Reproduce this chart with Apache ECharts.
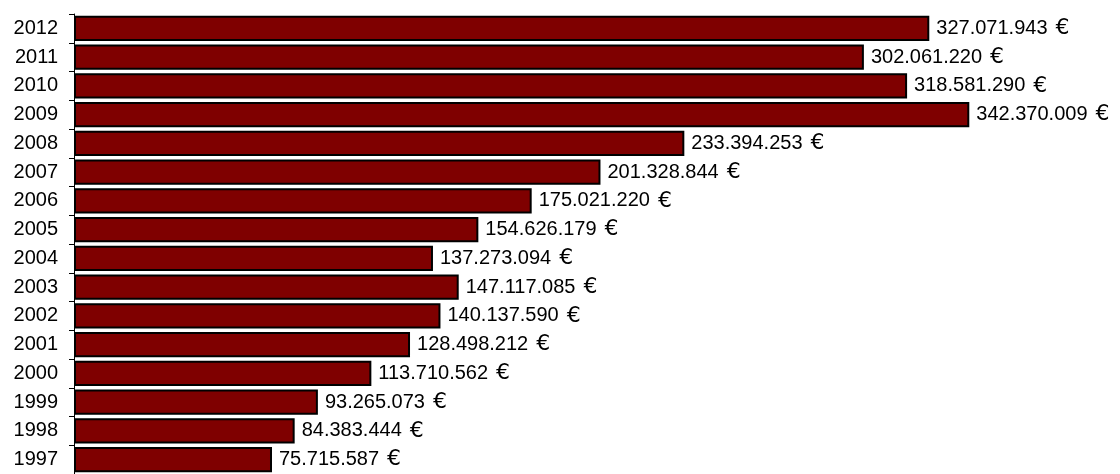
<!DOCTYPE html>
<html>
<head>
<meta charset="utf-8">
<script src="https://cdn.jsdelivr.net/npm/echarts@6/dist/echarts.min.js"></script>
<style>
html,body{margin:0;padding:0;background:#fff;}
#c{width:1120px;height:474px;}
</style>
</head>
<body>
<div id="c"></div>
<script>
const years = ['1997','1998','1999','2000','2001','2002','2003','2004','2005','2006','2007','2008','2009','2010','2011','2012'];
const values = [75715587, 84383444, 93265073, 113710562, 128498212, 140137590, 147117085, 137273094, 154626179, 175021220, 201328844, 233394253, 342370009, 318581290, 302061220, 327071943];

function fmt(v){
  return '{n|' + String(v).replace(/\B(?=(\d{3})+(?!\d))/g, '.') + '}{e|€}';
}

const FONT = 'Liberation Sans, Arial, sans-serif';
const chart = echarts.init(document.getElementById('c'));
chart.setOption({
  animation: false,
  backgroundColor: '#fff',
  grid: {left: 74, top: 14, right: 0, height: 464, containLabel: false},
  xAxis: {
    type: 'value', min: 0, max: 400000000,
    show: false
  },
  yAxis: {
    type: 'category', data: years,
    axisLine: {show: true, lineStyle: {color: '#000', width: 1}},
    axisTick: {show: true, length: 5, lineStyle: {color: '#000'}},
    axisLabel: {color: '#000', fontSize: 20, fontFamily: FONT, margin: 16},
    splitLine: {show: false}
  },
  series: [{
    type: 'bar',
    data: values,
    barCategoryGap: '12%',
    itemStyle: {color: '#7f0000', borderColor: '#000', borderWidth: 2},
    label: {
      show: true, position: 'right', distance: 7,
      color: '#000', fontSize: 20, fontFamily: FONT,
      formatter: p => fmt(p.value),
      rich: {
        n: {color: '#000', fontSize: 20, fontFamily: FONT},
        e: {color: '#000', fontSize: 22, fontFamily: 'DejaVu Sans, sans-serif', padding: [0, 0, 0, 8]}
      }
    }
  }]
});
</script>
</body>
</html>
